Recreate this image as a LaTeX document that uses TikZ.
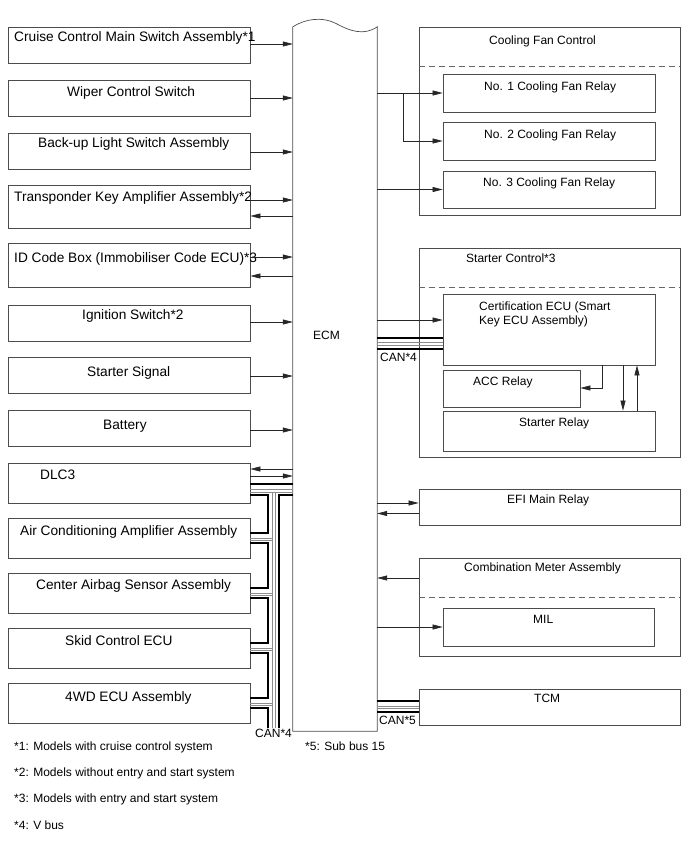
\documentclass[tikz,border=0pt]{standalone}
\usepackage{fontspec}
\setmainfont{Liberation Sans}
\usetikzlibrary{arrows.meta}
\begin{document}
\begin{tikzpicture}[x=1pt,y=-1pt,
  box/.style={draw=black!70, line width=0.7pt, rectangle, inner sep=0pt},
  arr/.style={draw=black!85, line width=0.6pt, -{Triangle[length=10pt,width=5pt]}},
  ln/.style={draw=black!85, line width=0.6pt},
  bus/.style={line width=2.4pt, black},
  gbus/.style={line width=0.6pt, black!45},
  dsh/.style={draw=black!60, line width=0.6pt, dash pattern=on 6pt off 4pt},
  lbl/.style={anchor=base west, inner sep=0pt, font=\fontsize{13.7}{16}\selectfont},
  rlbl/.style={anchor=base west, inner sep=0pt, font=\fontsize{12}{14}\selectfont},
]
\useasboundingbox (0,0) rectangle (688,852);
\newcommand\bx[5]{\node[box, minimum width=#4, minimum height=#5] (#1) at (#2,#3) {};}

% ---------- left column ----------
\bx{cruise}{129}{45}{242}{36}
\bx{wiper}{129}{98}{242}{36}
\bx{backup}{129}{151}{242}{36}
\bx{transp}{129}{206.5}{242}{43}
\bx{idbox}{129}{265}{242}{44}
\bx{ign}{129}{323}{242}{36}
\bx{stsig}{129}{375}{242}{36}
\bx{batt}{129}{428}{242}{36}
\bx{dlc}{129}{483}{242}{40}
\bx{ac}{129}{538}{242}{40}
\bx{airbag}{129}{593}{242}{40}
\bx{skid}{129}{648}{242}{40}
\bx{fourwd}{129}{703}{242}{40}

\node[lbl] (cruise-t) at (14,41) {Cruise Control Main Switch Assembly*1};
\node[lbl] (wiper-t) at (67,96) {Wiper Control Switch};
\node[lbl] (backup-t) at (38,147) {Back-up Light Switch Assembly};
\node[lbl] (transp-t) at (14,201) {Transponder Key Amplifier Assembly*2};
\node[lbl] (idbox-t) at (14,262) {ID Code Box (Immobiliser Code ECU)*3};
\node[lbl] (ign-t) at (82,319) {Ignition Switch*2};
\node[lbl] (stsig-t) at (87,376) {Starter Signal};
\node[lbl] (batt-t) at (103,429) {Battery};
\node[lbl] (dlc-t) at (40,479) {DLC3};
\node[lbl] (ac-t) at (20,535) {Air Conditioning Amplifier Assembly};
\node[lbl] (airbag-t) at (36,589) {Center Airbag Sensor Assembly};
\node[lbl] (skid-t) at (65,645) {Skid Control ECU};
\node[lbl] (fourwd-t) at (65,701) {4WD ECU Assembly};

% ---------- ECM ----------
\node[inner sep=0pt, minimum width=84, minimum height=704] (ecm) at (335,379) {};
\draw[box] (ecm.south west) -- (ecm.north west)
  .. controls (305,19) and (322,16) .. (337,24)
  .. controls (350,31) and (364,36) .. (ecm.north east)
  -- (ecm.south east) -- cycle;
\node[rlbl] (ecm-t) at (313,339) {ECM};

% ---------- left arrows ----------
\draw[arr] (cruise.east |- 0,44) -- (ecm.west |- 0,44);
\draw[arr] (wiper.east |- 0,98) -- (ecm.west |- 0,98);
\draw[arr] (backup.east |- 0,152) -- (ecm.west |- 0,152);
\draw[arr] (transp.east |- 0,200) -- (ecm.west |- 0,200);
\draw[arr] (ecm.west |- 0,216) -- (transp.east |- 0,216);
\draw[arr] (idbox.east |- 0,257) -- (ecm.west |- 0,257);
\draw[arr] (ecm.west |- 0,276) -- (idbox.east |- 0,276);
\draw[arr] (ign.east |- 0,322) -- (ecm.west |- 0,322);
\draw[arr] (stsig.east |- 0,376) -- (ecm.west |- 0,376);
\draw[arr] (batt.east |- 0,430) -- (ecm.west |- 0,430);
\draw[arr] (ecm.west |- 0,469) -- (dlc.east |- 0,469);
\draw[arr] (dlc.east |- 0,476) -- (ecm.west |- 0,476);

% ---------- left CAN bus ----------
\coordinate (busend) at (279,728);
\coordinate (ubend) at (268,728);
\draw[gbus] (dlc.east |- 0,489) -- (ecm.west |- 0,489);
\draw[gbus] (dlc.east |- 0,492) -- (ecm.west |- 0,492);
\draw[gbus] (272,492) -- (272,728);
\draw[gbus] (275,492) -- (275,728);
\draw[bus] (dlc.east |- 0,484) -- (ecm.west |- 0,484);
\draw[bus] (ecm.west |- 0,495) -- (279,495) -- (busend);
\draw[bus] (dlc.east |- 0,495) -- (268,495) -- (268,533) -- (ac.east |- 0,533);
\foreach \b/\n/\t in {ac/airbag/518, airbag/skid/573, skid/fourwd/628}{
  \draw[gbus] (\b.east |- 0,\t+20) -- (272,\t+20);
  \draw[gbus] (\b.east |- 0,\t+22.5) -- (272,\t+22.5);
  \draw[bus] (\b.east |- 0,\t+25) -- (268,\t+25) -- (268,\t+70) -- (\n.east |- 0,\t+70);
}
\draw[gbus] (fourwd.east |- 0,703) -- (272,703);
\draw[gbus] (fourwd.east |- 0,705.5) -- (272,705.5);
\draw[bus] (fourwd.east |- 0,708) -- (268,708) -- (ubend);
\node[rlbl] (can4l) at (255,737) {CAN*4};

% ---------- Cooling fan control ----------
\bx{cool}{549.5}{121}{261}{188}
\draw[dsh] (cool.west |- 0,66) -- (cool.east |- 0,66);
\bx{fan1}{549}{93}{212}{38}
\bx{fan2}{549}{141}{212}{38}
\bx{fan3}{549}{189.5}{212}{37}
\node[rlbl] (cool-t) at (489,44) {Cooling Fan Control};
\node[rlbl] (fan1-t) at (484,90) {No. 1 Cooling Fan Relay};
\node[rlbl] (fan2-t) at (484,138) {No. 2 Cooling Fan Relay};
\node[rlbl] (fan3-t) at (483,186) {No. 3 Cooling Fan Relay};
\coordinate (fork) at (403,93);
\draw[arr] (ecm.east |- 0,93) -- (fan1.west |- 0,93);
\draw[arr] (fork) -- (403,141) -- (fan2.west |- 0,141);
\draw[arr] (ecm.east |- 0,189.5) -- (fan3.west |- 0,189.5);

% ---------- Starter control ----------
\bx{stc}{549.5}{352.5}{261}{209}
\draw[dsh] (stc.west |- 0,287) -- (stc.east |- 0,287);
\bx{cert}{549}{329.5}{212}{71}
\bx{acc}{511.5}{388.5}{137}{37}
\bx{strel}{549}{431}{212}{40}
\node[rlbl] (stc-t) at (466,262) {Starter Control*3};
\node[rlbl] (cert-t1) at (479,310.5) {Certification ECU (Smart};
\node[rlbl] (cert-t2) at (479,324.5) {Key ECU Assembly)};
\node[rlbl] (acc-t) at (473,385.5) {ACC Relay};
\node[rlbl] (strel-t) at (519,426.5) {Starter Relay};
\draw[arr] (ecm.east |- 0,320) -- (cert.west |- 0,320);
\draw[gbus] (ecm.east |- 0,342.7) -- (cert.west |- 0,342.7);
\draw[gbus] (ecm.east |- 0,345.2) -- (cert.west |- 0,345.2);
\draw[bus] (ecm.east |- 0,338) -- (cert.west |- 0,338);
\draw[bus] (ecm.east |- 0,349) -- (cert.west |- 0,349);
\node[rlbl] (can4r) at (380,361.5) {CAN*4};
\draw[arr] (cert.south -| 602,0) -- (602,388) -- (acc.east |- 0,388);
\draw[arr] (cert.south -| 623,0) -- (strel.north -| 623,0);
\draw[arr] (strel.north -| 637,0) -- (cert.south -| 637,0);

% ---------- EFI, combination meter, TCM ----------
\bx{efi}{549.5}{507}{261}{36}
\node[rlbl] (efi-t) at (507,503.5) {EFI Main Relay};
\draw[arr] (ecm.east |- 0,503) -- (efi.west |- 0,503);
\draw[arr] (efi.west |- 0,513.5) -- (ecm.east |- 0,513.5);

\bx{combo}{549.5}{607}{261}{98}
\draw[dsh] (combo.west |- 0,597) -- (combo.east |- 0,597);
\bx{mil}{548.5}{627}{211}{38}
\node[rlbl] (combo-t) at (464,571.5) {Combination Meter Assembly};
\node[rlbl] (mil-t) at (533,623.5) {MIL};
\draw[arr] (combo.west |- 0,578) -- (ecm.east |- 0,578);
\draw[arr] (ecm.east |- 0,627) -- (mil.west |- 0,627);

\bx{tcm}{549.5}{707}{261}{36}
\node[rlbl] (tcm-t) at (534,702.5) {TCM};
\draw[gbus] (ecm.east |- 0,705.8) -- (tcm.west |- 0,705.8);
\draw[gbus] (ecm.east |- 0,708.3) -- (tcm.west |- 0,708.3);
\draw[bus] (ecm.east |- 0,701) -- (tcm.west |- 0,701);
\draw[bus] (ecm.east |- 0,712) -- (tcm.west |- 0,712);
\node[rlbl] (can5) at (379,724.5) {CAN*5};

% ---------- footnotes ----------
\node[rlbl] (fn5) at (305,750.5) {*5: Sub bus 15};
\node[rlbl] (fn1) at (14,750.5) {*1: Models with cruise control system};
\node[rlbl] (fn2) at (14,776.5) {*2: Models without entry and start system};
\node[rlbl] (fn3) at (14,802.5) {*3: Models with entry and start system};
\node[rlbl] (fn4) at (14,829.5) {*4: V bus};
\end{tikzpicture}
\end{document}
